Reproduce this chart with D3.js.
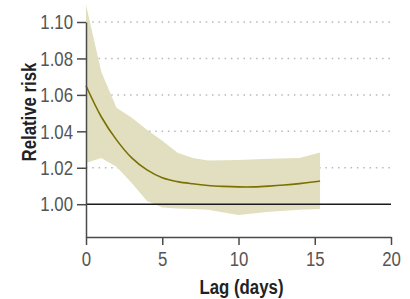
<!DOCTYPE html>
<html>
<head>
<meta charset="utf-8">
<script src="https://cdn.jsdelivr.net/npm/d3@7"></script>
<style>
  body { margin: 0; background: #fff; }
  svg text { font-family: "Liberation Sans", Arial, sans-serif; }
</style>
</head>
<body>
<svg width="410" height="299"></svg>
<script>
const lags = [0, 1, 2, 3, 4, 5, 6, 7, 8, 9, 10, 11, 12, 13, 14, 15, 15.35];
const rr = [1.065, 1.048, 1.0353, 1.0254, 1.0188, 1.0145, 1.0124, 1.0112, 1.0103, 1.0098, 1.0095, 1.0095, 1.0099, 1.0105, 1.0113, 1.0123, 1.0127];

const bandLags = [0, 1, 2, 3, 4, 5, 6, 7, 8, 10, 12, 14, 15.35];
const upper = [1.1095, 1.0727, 1.0529, 1.0474, 1.0408, 1.0348, 1.0282, 1.0254, 1.024, 1.0243, 1.025, 1.0253, 1.0284];
const lower = [1.0226, 1.0254, 1.0205, 1.0117, 1.0018, 0.9982, 0.9977, 0.9973, 0.9969, 0.9941, 0.9958, 0.9969, 0.9974];

const xTicks = [0, 5, 10, 15, 20];
const yTicks = [1.00, 1.02, 1.04, 1.06, 1.08, 1.10];
const gridTicks = [1.02, 1.04, 1.06, 1.08, 1.10];

const svg = d3.select("svg");
const squeeze = 0.8; // narrow the text to look like a condensed face

const x = d3.scaleLinear().domain([0, 20]).range([86, 391]);
const y = d3.scaleLinear().domain([0.982, 1.10]).range([237, 22]);

// dotted gridlines
svg.append("g")
  .selectAll("line")
  .data(gridTicks)
  .join("line")
  .attr("x1", x(0))
  .attr("x2", x(20))
  .attr("y1", (d) => y(d))
  .attr("y2", (d) => y(d))
  .attr("stroke", "#b8b8b8")
  .attr("stroke-width", 1.5)
  .attr("stroke-dasharray", "1.5,4.8");

// confidence band
const band = bandLags.map((l, i) => ({ lag: l, lo: lower[i], hi: upper[i] }));
svg.append("path")
  .datum(band)
  .attr("fill", "#e1dfbf")
  .attr("d", d3.area().x((d) => x(d.lag)).y0((d) => y(d.lo)).y1((d) => y(d.hi)));

// reference line at 1
svg.append("line")
  .attr("x1", x(0))
  .attr("x2", x(20))
  .attr("y1", y(1))
  .attr("y2", y(1))
  .attr("stroke", "#1a1a1a")
  .attr("stroke-width", 1.5);

// central estimate
svg.append("path")
  .datum(lags.map((l, i) => ({ lag: l, v: rr[i] })))
  .attr("fill", "none")
  .attr("stroke", "#7b7000")
  .attr("stroke-width", 1.6)
  .attr("d", d3.line().curve(d3.curveCatmullRom).x((d) => x(d.lag)).y((d) => y(d.v)));

// axes
const yAxis = svg.append("g")
  .attr("transform", "translate(" + x(0) + ",0)")
  .call(d3.axisLeft(y).tickValues(yTicks).tickFormat(d3.format(".2f")).tickSize(9).tickSizeOuter(0).tickPadding(4));

const xAxis = svg.append("g")
  .attr("transform", "translate(0," + y.range()[0] + ")")
  .call(d3.axisBottom(x).tickValues(xTicks).tickSize(8).tickSizeOuter(0).tickPadding(6));

[yAxis, xAxis].forEach((g) => {
  g.selectAll(".domain, .tick line").attr("stroke", "#4a4a4a").attr("stroke-width", 1.5);
  g.selectAll(".tick text")
    .attr("fill", "#555")
    .attr("font-size", "21px")
    .attr("font-family", "'Liberation Sans', Arial, sans-serif");
});
yAxis.selectAll(".tick text")
  .attr("x", -13 / squeeze)
  .attr("transform", "scale(" + squeeze + ",1)");
xAxis.selectAll(".tick text")
  .attr("transform", "scale(" + squeeze + ",1)");

// axis titles
svg.append("text")
  .attr("transform", "translate(" + (x(10) + 3) + ",294) scale(" + squeeze + ",1)")
  .attr("text-anchor", "middle")
  .attr("font-size", "21px")
  .attr("font-weight", "bold")
  .attr("fill", "#222")
  .text("Lag (days)");

svg.append("text")
  .attr("transform", "translate(36,112) rotate(-90) scale(" + squeeze + ",1)")
  .attr("text-anchor", "middle")
  .attr("font-size", "21px")
  .attr("font-weight", "bold")
  .attr("fill", "#222")
  .text("Relative risk");
</script>
</body>
</html>
